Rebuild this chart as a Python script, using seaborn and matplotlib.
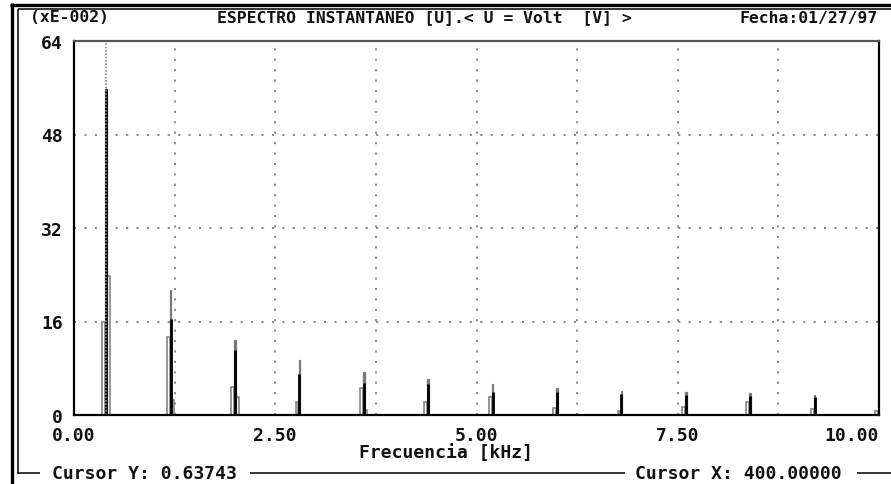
import numpy as np
import pandas as pd
import matplotlib
matplotlib.use("Agg")
import matplotlib.pyplot as plt
from matplotlib.lines import Line2D
import seaborn as sns

# ---------------- data ----------------
harm_khz = [0.4, 1.2, 2.0, 2.8, 3.6, 4.4, 5.2, 6.0, 6.8, 7.6, 8.4, 9.2, 10.0]
peak_top = [55.8, 21.4, 12.8, 9.4, 7.4, 6.2, 5.3, 4.6, 4.1, 3.9, 3.8, 3.4, 3.3]
peak_core = [55.8, 16.5, 11.1, 7.0, 5.5, 5.3, 3.9, 4.0, 3.6, 3.4, 3.3, 3.0, 3.0]
side_left = [16.0, 13.4, 4.8, 2.2, 4.6, 2.2, 3.1, 1.2, 0.7, 1.4, 2.2, 1.0, 0.7]
side_right = [23.8, 2.6, 3.1, 0.0, 0.9, 0.0, 0.0, 0.0, 0.0, 0.0, 0.0, 0.0, 0.0]
cursor_x_hz = 400.0
cursor_y = 0.63743

x_ticks = [0.0, 2.5, 5.0, 7.5, 10.0]
x_tick_labels = ["0.00", "2.50", "5.00", "7.50", "10.00"]
y_ticks = [0, 16, 32, 48, 64]
y_tick_labels = ["0", "16", "32", "48", "64"]
x_grid = [1.25, 2.5, 3.75, 5.0, 6.25, 7.5, 8.75]
y_grid = [16, 32, 48]

title_text = "ESPECTRO INSTANTANEO [U].< U = Volt  [V] >"
scale_text = "(xE-002)"
date_text = "Fecha:01/27/97"
x_label = "Frecuencia [kHz]"

# ---------------- style ----------------
sns.set_theme(style="white")
plt.rcParams["font.family"] = ["DejaVu Sans Mono", "DejaVu Sans"]
plt.rcParams["font.weight"] = "bold"

W, H = 891, 485
fig = plt.figure(figsize=(W / 100, H / 100), dpi=100)
fig.patch.set_facecolor("white")
ax = fig.add_axes([74 / W, 69 / H, 805 / W, 374 / H])
ax.set_facecolor("white")

GRAY = "#7a7a7a"

# dotted grid
ax.vlines(x_grid, 0, 64, colors="#8c8c8c", linestyles=(0, (1, 4)),
          linewidth=1.5, zorder=1)
ax.hlines(y_grid, 0, 10, colors="#8c8c8c", linestyles=(0, (1, 4)),
          linewidth=1.5, zorder=1)

# side (hollow) bins
df_l = pd.DataFrame({"f": np.array(harm_khz) - 0.03, "h": side_left})
sns.barplot(data=df_l, x="f", y="h", native_scale=True, width=0.035 / 0.8,
            color="white", edgecolor=GRAY, linewidth=1.1, saturation=1,
            errorbar=None, ax=ax, zorder=2)
df_r = pd.DataFrame({"f": np.array(harm_khz) + 0.03, "h": side_right})
sns.barplot(data=df_r, x="f", y="h", native_scale=True, width=0.03 / 0.8,
            color="white", edgecolor=GRAY, linewidth=1.1, saturation=1,
            errorbar=None, ax=ax, zorder=2)
# main thin bins
df_m = pd.DataFrame({"f": harm_khz, "h": peak_top})
sns.barplot(data=df_m, x="f", y="h", native_scale=True, width=0.022 / 0.8,
            color=GRAY, edgecolor=GRAY, linewidth=0.9, saturation=1,
            errorbar=None, ax=ax, zorder=3)
ax.vlines(harm_khz, 0, peak_core, colors="black", linewidth=2.0, zorder=4)

# cursor line
ax.vlines(cursor_x_hz / 1000.0, 0, cursor_y * 100, colors="#8a8a8a",
          linestyles=(0, (1, 1)), linewidth=1.2, zorder=5)

ax.set_xlim(0, 10)
ax.set_ylim(0, 64)
ax.grid(False)

ax.set_xticks(x_ticks)
ax.set_xticklabels(x_tick_labels)
ax.set_yticks(y_ticks)
ax.set_yticklabels(y_tick_labels)
ax.tick_params(which="both", length=0)
ax.tick_params(axis="x", pad=8, labelsize=13)
ax.tick_params(axis="y", pad=8, labelsize=13)
xl = ax.get_xticklabels()
xl[-1].set_horizontalalignment("right")
for t in ax.get_xticklabels() + ax.get_yticklabels():
    t.set_fontweight("bold")
    t.set_color("#111111")

ax.set_ylabel("")
ax.set_xlabel(x_label, fontsize=13, fontweight="bold", color="#111111")
ax.xaxis.set_label_coords((446 - 74) / 805, (416 - 445) / 374)

for s in ["left", "bottom", "right"]:
    ax.spines[s].set_color("black")
    ax.spines[s].set_linewidth(1.6)
ax.spines["top"].set_color("#555555")
ax.spines["top"].set_linewidth(1.6)
for s in ax.spines.values():
    s.set_zorder(6)
    s.set_visible(True)

# header texts
fig.text(30 / W, 1 - 18 / H, scale_text, ha="left", va="center",
         fontsize=11.8, fontweight="bold", color="#111111")
fig.text(217 / W, 1 - 18 / H, title_text, ha="left", va="center",
         fontsize=11.8, fontweight="bold", color="#111111")
fig.text(878 / W, 1 - 18 / H, date_text, ha="right", va="center",
         fontsize=11.8, fontweight="bold", color="#111111")

# bottom status line
fig.text(52 / W, 1 - 474 / H, f"Cursor Y: {cursor_y:.5f}", ha="left",
         va="center", fontsize=13, fontweight="bold", color="#111111")
fig.text(635 / W, 1 - 474 / H, f"Cursor X: {cursor_x_hz:.5f}", ha="left",
         va="center", fontsize=13, fontweight="bold", color="#111111")


def fline(xs, ys, lw, color="black"):
    fig.add_artist(Line2D([x / W for x in xs], [1 - y / H for y in ys],
                          transform=fig.transFigure, color=color,
                          linewidth=lw, solid_capstyle="butt"))


# frame decorations
fline([11.5, 11.5], [4, 485], 2.4)
fline([10, 891], [5.5, 5.5], 2.4)
fline([18, 18], [10, 474.5], 1.1)
fline([17.5, 891], [10, 10], 1.1)
fline([17.5, 40], [474, 474], 1.1)
fline([250, 625], [474, 474], 1.1)
fline([857, 891], [474, 474], 1.1)

fig.savefig("out.png", dpi=100)
